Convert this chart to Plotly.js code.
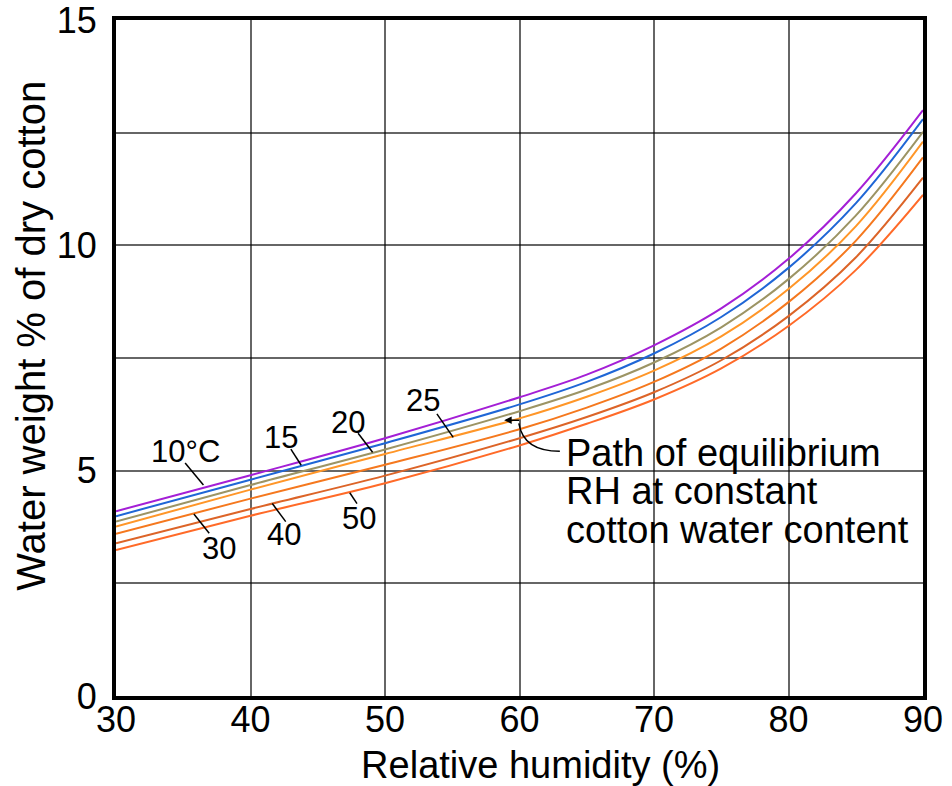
<!DOCTYPE html>
<html>
<head>
<meta charset="utf-8">
<script src="https://cdn.plot.ly/plotly-3.0.1.min.js"></script>
<style>html,body{margin:0;padding:0;background:#fff;}#chart{width:952px;height:786px;}</style>
</head>
<body>
<div id="chart"></div>
<script>
// Relative humidity (%) sample points
const rh = [30, 40, 50, 60, 65, 70, 75, 80, 85, 90];
// Water weight % of dry cotton, one series per temperature
const t10 = [4.10, 4.90, 5.72, 6.63, 7.13, 7.78, 8.60, 9.70, 11.15, 13.00];
const t15 = [3.99, 4.80, 5.61, 6.47, 6.97, 7.60, 8.41, 9.50, 10.93, 12.80];
const t20 = [3.87, 4.68, 5.47, 6.32, 6.80, 7.40, 8.18, 9.25, 10.66, 12.52];
const t25 = [3.76, 4.58, 5.37, 6.16, 6.64, 7.22, 7.98, 9.03, 10.42, 12.30];
const t30 = [3.60, 4.38, 5.13, 5.92, 6.40, 6.97, 7.71, 8.74, 10.10, 11.95];
const t40 = [3.39, 4.15, 4.89, 5.72, 6.19, 6.74, 7.45, 8.43, 9.73, 11.50];
const t50 = [3.24, 4.00, 4.72, 5.56, 6.04, 6.58, 7.27, 8.21, 9.45, 11.12];

const seriesNames = ['10°C', '15', '20', '25', '30', '40', '50'];
const seriesData = [t10, t15, t20, t25, t30, t40, t50];
const seriesColors = ['#A41FD6', '#1F66D6', '#9C9464', '#FF9628', '#F5781E', '#DC6428', '#FF6A28'];

const yTickVals = [0, 2.5, 5, 7.5, 10, 12.5, 15];
const yTickText = ['0', '', '5', '', '10', '', '15'];

const FONT = 'Liberation Sans, Arial, Helvetica, sans-serif';
const PAD = '<span>\u00a0\u00a0\u00a0\u00a0</span>';

const traces = seriesData.map((ys, i) => ({
  type: 'scatter', mode: 'lines', name: seriesNames[i],
  x: rh, y: ys,
  line: {color: seriesColors[i], width: 2, shape: 'spline', smoothing: 1},
  hoverinfo: 'skip'
}));

// curve labels: [text, x, y, leader x0, y0, x1, y1]
const labels = [
  ['10°C', 35.14, 5.43, 35.14, 5.17, 36.5, 4.68],
  ['15', 42.3, 5.74, 43.0, 5.48, 43.77, 5.12],
  ['20', 47.23, 6.07, 48.0, 5.83, 49.08, 5.41],
  ['25', 52.86, 6.55, 53.86, 6.26, 55.07, 5.74],
  ['30', 37.64, 3.27, 35.79, 4.04, 36.93, 3.61],
  ['40', 42.46, 3.59, 41.62, 4.27, 42.62, 3.87],
  ['50', 48.08, 3.93, 47.38, 4.51, 47.92, 4.27]
];

const annotations = labels.map(l => ({
  text: l[0], x: l[1], y: l[2], xref: 'x', yref: 'y', showarrow: false,
  font: {family: FONT, size: 31, color: '#000'}, xanchor: 'center', yanchor: 'middle'
}));
const pathLines = ['Path of equilibrium', 'RH at constant', 'cotton water content'];
const pathY = [5.39, 4.55, 3.68];
pathLines.forEach((t, i) => annotations.push({
  text: t, x: 63.3, y: pathY[i], xref: 'x', yref: 'y', showarrow: false,
  font: {family: FONT, size: 38, color: '#000'}, xanchor: 'left', yanchor: 'middle'
}));
annotations.push({
  text: '', x: 58.86, y: 6.12, xref: 'x', yref: 'y', ax: 60.08, ay: 6.12, axref: 'x', ayref: 'y',
  showarrow: true, arrowhead: 2, arrowsize: 1, arrowwidth: 1.5, arrowcolor: '#000'
});

const shapes = labels.map(l => ({
  type: 'line', xref: 'x', yref: 'y', x0: l[3], y0: l[4], x1: l[5], y1: l[6],
  line: {color: '#000', width: 1.5}
}));
shapes.push({
  type: 'path', xref: 'x', yref: 'y',
  path: 'M 59.95,6.05 Q 60.3,5.43 63.0,5.43',
  line: {color: '#000', width: 1.5}
});

const layout = {
  width: 952, height: 786,
  margin: {l: 116, r: 29, t: 20, b: 90},
  paper_bgcolor: '#fff', plot_bgcolor: '#fff',
  showlegend: false,
  font: {family: FONT, color: '#000'},
  xaxis: {
    range: [30, 90], dtick: 10, tick0: 30,
    showgrid: true, gridcolor: 'rgba(0,0,0,0.6)', gridwidth: 2,
    showline: true, linecolor: '#000', linewidth: 4, mirror: true,
    zeroline: false, ticks: '', ticklabelstandoff: -11, ticklabeloverflow: 'allow',
    tickfont: {family: FONT, size: 36, color: '#000'},
    title: {text: PAD + 'Relative humidity (%)', font: {family: FONT, size: 38, color: '#000'}, standoff: 22},
    automargin: false, fixedrange: true
  },
  yaxis: {
    range: [0, 15], tickvals: yTickVals, ticktext: yTickText,
    showgrid: true, gridcolor: 'rgba(0,0,0,0.6)', gridwidth: 2,
    showline: true, linecolor: '#000', linewidth: 4, mirror: true,
    zeroline: false, ticks: '', ticklabelstandoff: 8, ticklabeloverflow: 'allow',
    tickfont: {family: FONT, size: 36, color: '#000'},
    title: {text: PAD + 'Water weight % of dry cotton', font: {family: FONT, size: 40, color: '#000'}, standoff: 0},
    automargin: false, fixedrange: true
  },
  annotations: annotations,
  shapes: shapes
};

Plotly.newPlot('chart', traces, layout, {displayModeBar: false, staticPlot: true});
</script>
</body>
</html>
